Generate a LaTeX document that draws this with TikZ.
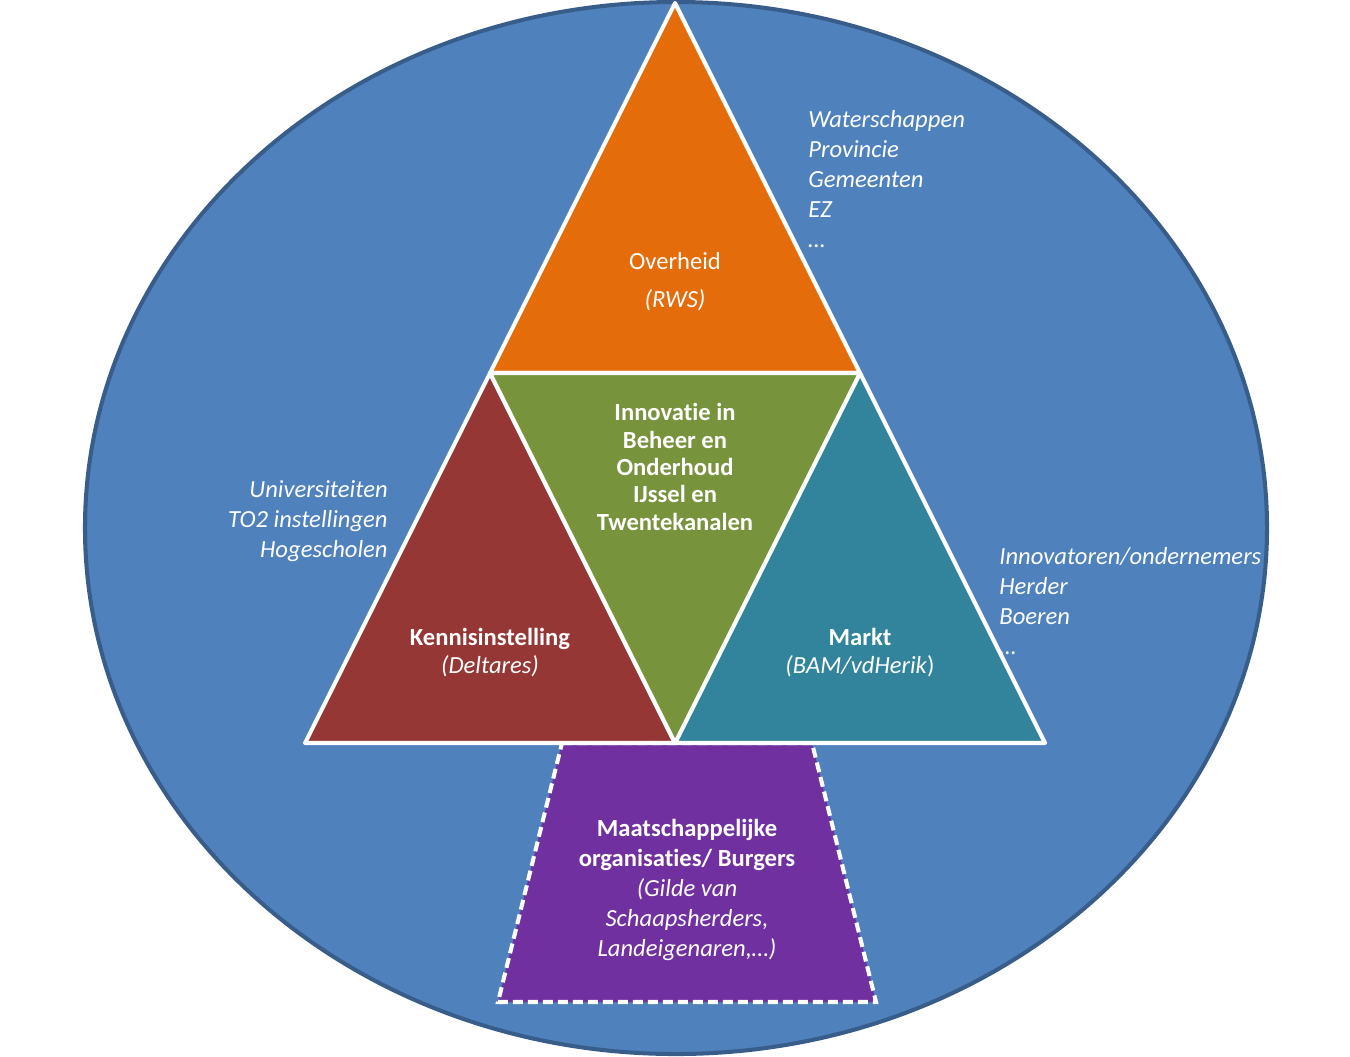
\documentclass[tikz,border=0pt]{standalone}
\usepackage{fontspec}
\setmainfont{Carlito}[Ligatures=NoCommon]
\usetikzlibrary{positioning}
\definecolor{vlak}{HTML}{4F81BD}
\definecolor{rand}{HTML}{385D8A}
\definecolor{oranje}{HTML}{E46C0A}
\definecolor{rood}{HTML}{953735}
\definecolor{groen}{HTML}{77933C}
\definecolor{petrol}{HTML}{31849B}
\definecolor{paars}{HTML}{7030A0}

\begin{document}
\begin{tikzpicture}[x=0.2mm,y=-0.2mm,
  part/.style={draw=white,line width=2.3pt,line join=round},
  lbl/.style={text=white,font=\fontsize{14}{17}\selectfont,align=center,inner sep=0pt},
  side/.style={text=white,font=\fontsize{14}{17}\selectfont\itshape,inner sep=0pt}]
\useasboundingbox (0,0) rectangle (1350,1056);
\draw[fill=vlak,draw=rand,line width=2.3pt](676,528) ellipse (11.82cm and 10.52cm);
%
\coordinate (top) at (675,3);
\coordinate (bl) at (305,743);
\coordinate (br) at (1045,743);
\coordinate (ml) at (490,373);
\coordinate (mr) at (860,373);
\coordinate (mb) at (675,743);
%
\draw[fill=paars,draw=white,line width=2.3pt,dash pattern=on 0.2cm off 0.1cm]
  (562,743)--(812,743)--(876,1002)--(498,1002)--cycle;
\draw[part,fill=oranje](top)--(mr)--(ml)--cycle;
\draw[part,fill=rood](ml)--(mb)--(bl)--cycle;
\draw[part,fill=petrol](mr)--(br)--(mb)--cycle;
\draw[part,fill=groen](ml)--(mr)--(mb)--cycle;
%
\node[lbl](overheid) at (675,282){Overheid\\[4.5pt]\itshape (RWS)};
\node[lbl,font=\fontsize{14}{15.6}\selectfont\bfseries](kern) at (675,467)
  {Innovatie in\\Beheer en\\Onderhoud\\IJssel en\\Twentekanalen};
\node[lbl,font=\fontsize{14}{15.9}\selectfont](kennis) at (490,653)
  {\textbf{Kennisinstelling}\\\textit{(Deltares)}};
\node[lbl,font=\fontsize{14}{15.9}\selectfont](markt) at (860,653)
  {\textbf{Markt}\\\textit{(BAM/vdHerik})};
\node[lbl](burgers) at (687,890)
  {\textbf{Maatschappelijke}\\\textbf{organisaties/ Burgers}\\\textit{(Gilde van}\\\textit{Schaapsherders,}\\\textit{Landeigenaren,…)}};
%
\node[side,anchor=east,align=right](kennislijst) at (388,521)
  {Universiteiten\\TO2 instellingen\\Hogescholen};
\node[side,anchor=west,align=left](overheidlijst) at (808,179)
  {Waterschappen\\Provincie\\Gemeenten\\EZ\\…};
\node[side,anchor=west,align=left](marktlijst) at (999,601)
  {Innovatoren/ondernemers\\Herder\\Boeren\\…};
\end{tikzpicture}
\end{document}
